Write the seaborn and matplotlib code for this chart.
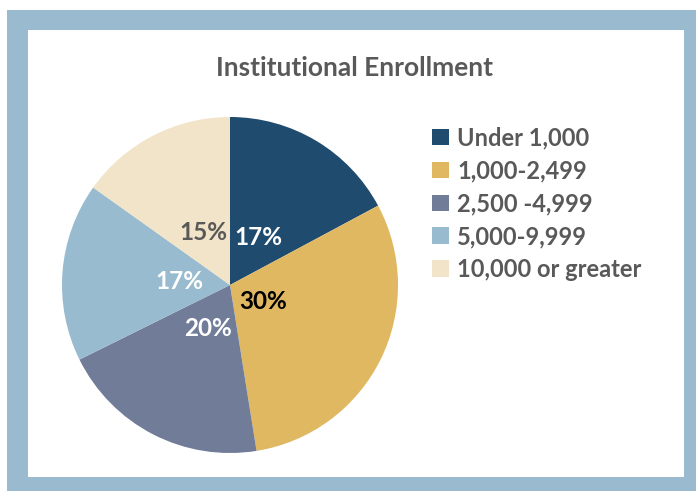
import matplotlib.pyplot as plt
import seaborn as sns
from matplotlib.patches import Rectangle, Patch

# Institutional enrollment pie chart

categories = ["Under 1,000", "1,000-2,499", "2,500 -4,999", "5,000-9,999", "10,000 or greater"]
shares = [17, 30, 20, 17, 15]
colors = ["#1F4B6E", "#E0B862", "#717C99", "#98BBCF", "#F2E4C8"]
label_colors = ["white", "black", "white", "white", "#595959"]
label_dist = [0.33, 0.22, 0.29, 0.30, 0.35]

sns.set_theme(style="white")
plt.rcParams["font.family"] = ["Lato", "DejaVu Sans"]

fig = plt.figure(figsize=(6.96, 4.91), dpi=100)
fig.patch.set_facecolor("white")

# frame around the chart, drawn in a background axes
bg = fig.add_axes([0, 0, 1, 1], zorder=0)
bg.set_xlim(0, 696)
bg.set_ylim(491, 0)
bg.axis("off")
bg.add_patch(Rectangle((7, 10), 689, 481, facecolor="#9ABBCF", edgecolor="none"))
bg.add_patch(Rectangle((28, 30), 656, 447, facecolor="white", edgecolor="none"))

ax = fig.add_axes([62 / 696, 38 / 491, 336 / 696, 336 / 491], zorder=1)
wedges, texts, autotexts = ax.pie(
    shares, colors=colors, startangle=90, counterclock=False,
    autopct=lambda p: f"{round(p)}%", pctdistance=1.0,
    wedgeprops=dict(linewidth=0),
)
for t, c, d in zip(autotexts, label_colors, label_dist):
    x, y = t.get_position()
    t.set_position((x * d, y * d))
    t.set_color(c)
    t.set_fontsize(17.5)
    t.set_fontweight("bold")
ax.set_xlim(-1, 1)
ax.set_ylim(-1, 1)
ax.set_aspect("equal")

fig.text(355 / 696, 1 - 68 / 491, "Institutional Enrollment", ha="center", va="center",
         fontsize=19, fontweight="bold", color="#595959", zorder=2)

handles = [Patch(facecolor=c, edgecolor="none") for c in colors]
leg = fig.legend(handles, categories, loc="upper left", bbox_to_anchor=(411 / 696, 1 - 105 / 491),
                 frameon=False, handlelength=0.7, handleheight=0.7, handletextpad=0.35,
                 labelspacing=0.42, prop=dict(size=17, weight="bold"), labelcolor="#595959")
leg.set_zorder(2)

fig.savefig("out.png", dpi=100)
